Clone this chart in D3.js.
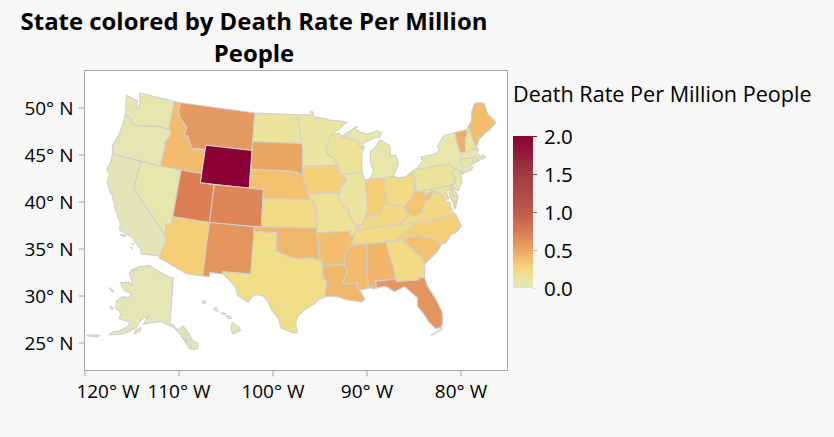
<!DOCTYPE html>
<html>
<head>
<meta charset="utf-8">
<script src="https://cdn.jsdelivr.net/npm/d3@7"></script>
<style>
  html, body { margin: 0; padding: 0; background: #f7f7f7; overflow: hidden; }
  text { font-family: "Open Sans", "Noto Sans", sans-serif; fill: #000; }
</style>
</head>
<body>
<svg id="chart" width="834" height="437"></svg>
<script>
// state names and rates
const stateNames = ["WA","OR","CA","NV","ID","MT","WY","UT","CO","AZ","NM","ND","SD","NE","KS","OK","TX","MN","IA","MO","AR","LA","WI","IL","MI","IN","OH","KY","TN","MS","AL","GA","FL","SC","NC","VA","WV","PA","NY","VT","NH","ME","MA","RI","CT","NJ","DE","MD","AK","HI"];
const deathRates = [0.07,0.05,0.02,0.09,0.40,0.58,2.0,0.70,0.67,0.30,0.60,0.15,0.50,0.37,0.22,0.42,0.21,0.12,0.28,0.17,0.38,0.42,0.16,0.13,0.10,0.31,0.23,0.24,0.22,0.40,0.43,0.23,0.60,0.37,0.30,0.24,0.36,0.15,0.10,0.45,0.13,0.38,0.10,0.10,0.10,0.11,0.15,0.16,0.03,0.03];

// outlines in lon/lat, one list of rings per state
const stateOutlines = {
  WA: [[[-124.7,48.4],[-123.2,48.15],[-122.75,48.15],[-122.6,47.3],[-122.35,47.4],[-122.3,47.9],[-122.5,48.4],[-122.75,49],[-117.03,49],[-117.04,46.42],[-116.92,45.99],[-118.98,46],[-119.3,45.93],[-121.2,45.65],[-122.3,45.55],[-122.75,45.65],[-122.95,46.1],[-123.4,46.2],[-124,46.25],[-124.1,46.9],[-124.4,47.5]]],
  OR: [[[-124,46.25],[-123.4,46.2],[-122.95,46.1],[-122.75,45.65],[-122.3,45.55],[-121.2,45.65],[-119.3,45.93],[-118.98,46],[-116.92,45.99],[-116.46,45.6],[-116.85,44.95],[-117.2,44.4],[-117.03,44.2],[-117.03,42],[-124.2,42],[-124.55,42.85],[-124.1,44],[-123.95,45.5]]],
  CA: [[[-124.2,42],[-120,42],[-120,39],[-114.63,35],[-114.14,34.3],[-114.5,33.9],[-114.72,32.72],[-117.12,32.53],[-117.3,33],[-118.4,33.75],[-118.5,34.03],[-119.2,34.15],[-120.5,34.45],[-120.65,35.15],[-121.9,36.6],[-122,36.95],[-122.5,37.5],[-122.5,37.8],[-123,38],[-123.75,38.95],[-123.8,39.8],[-124.35,40.3],[-124.1,41]],
      [[-120.2,34.05],[-119.55,34.05],[-119.55,33.93],[-120.2,33.93]],[[-118.6,33.45],[-118.3,33.35],[-118.45,33.3]],[[-118.6,33.05],[-118.35,32.8],[-118.5,32.85]]],
  NV: [[[-120,42],[-117.03,42],[-114.04,42],[-114.04,36.2],[-114.75,36.1],[-114.63,35],[-120,39]]],
  ID: [[[-117.03,49],[-116.05,49],[-116.05,48],[-115.7,47.45],[-114.7,46.75],[-114.35,46.65],[-114.5,45.6],[-113.95,45.7],[-113.45,44.95],[-113,44.45],[-111.5,44.55],[-111.05,44.48],[-111.05,42],[-114.04,42],[-117.03,42],[-117.03,44.2],[-117.2,44.4],[-116.85,44.95],[-116.46,45.6],[-116.92,45.99],[-117.04,46.42]]],
  MT: [[[-116.05,49],[-104.05,49],[-104.05,45],[-111.05,45],[-111.05,44.48],[-111.5,44.55],[-113,44.45],[-113.45,44.95],[-113.95,45.7],[-114.5,45.6],[-114.35,46.65],[-114.7,46.75],[-115.7,47.45],[-116.05,48]]],
  WY: [[[-111.05,45],[-104.05,45],[-104.05,41],[-111.05,41]]],
  UT: [[[-114.04,42],[-111.05,42],[-111.05,41],[-109.05,41],[-109.05,37],[-114.04,37]]],
  CO: [[[-109.05,41],[-102.05,41],[-102.05,37],[-109.05,37]]],
  AZ: [[[-114.04,37],[-109.05,37],[-109.05,31.33],[-111.07,31.33],[-114.8,32.5],[-114.72,32.72],[-114.5,33.9],[-114.14,34.3],[-114.63,35],[-114.75,36.1],[-114.04,36.2]]],
  NM: [[[-109.05,37],[-103,37],[-103.05,32],[-106.62,32],[-106.53,31.78],[-108.2,31.78],[-108.2,31.33],[-109.05,31.33]]],
  ND: [[[-104.05,49],[-97.23,49],[-96.85,47.5],[-96.56,45.94],[-104.05,45.94]]],
  SD: [[[-104.05,45.94],[-96.56,45.94],[-96.45,45.3],[-96.45,43.5],[-96.45,42.5],[-97.2,42.85],[-98.5,43],[-104.05,43]]],
  NE: [[[-104.05,43],[-98.5,43],[-97.2,42.85],[-96.45,42.5],[-96.1,41.7],[-95.9,41.2],[-95.77,40.58],[-95.31,40],[-102.05,40],[-102.05,41],[-104.05,41]]],
  KS: [[[-102.05,40],[-95.31,40],[-94.9,39.8],[-94.6,39.1],[-94.62,37],[-102.05,37]]],
  OK: [[[-103,37],[-94.62,37],[-94.62,36.5],[-94.43,35.4],[-94.48,33.64],[-95.5,33.9],[-97.1,33.75],[-97.9,33.9],[-99.2,34.3],[-100,34.56],[-100,36.5],[-103,36.5]]],
  TX: [[[-106.62,32],[-103.05,32],[-103,36.5],[-100,36.5],[-100,34.56],[-99.2,34.3],[-97.9,33.9],[-97.1,33.75],[-95.5,33.9],[-94.48,33.64],[-94.04,33.55],[-94.04,33],[-94.04,32],[-93.55,31.2],[-93.85,29.7],[-94.75,29.35],[-95.3,28.9],[-96.4,28.35],[-97.2,27.6],[-97.4,26.8],[-97.15,25.96],[-97.6,25.9],[-99.1,26.4],[-99.5,27.5],[-100.3,28.3],[-100.7,29.1],[-101.4,29.77],[-102.3,29.88],[-102.7,29.7],[-103.15,28.98],[-104.5,29.65],[-104.9,30.6],[-106,31.4],[-106.53,31.78]]],
  MN: [[[-97.23,49],[-95.15,49],[-95.15,49.38],[-94.8,49.3],[-94.6,48.72],[-93,48.55],[-92,48.3],[-90.8,48.2],[-89.5,48],[-90.8,47.3],[-92.05,46.7],[-92.3,46.65],[-92.3,46.1],[-92.85,45.6],[-92.75,44.75],[-91.95,44.35],[-91.2,43.5],[-96.45,43.5],[-96.45,45.3],[-96.56,45.94],[-96.85,47.5]]],
  IA: [[[-96.45,43.5],[-91.2,43.5],[-91.1,42.7],[-90.65,42.5],[-90.15,41.8],[-91.05,41.2],[-91.1,40.7],[-91.42,40.38],[-91.7,40.6],[-95.77,40.58],[-95.9,41.2],[-96.1,41.7],[-96.45,42.5]]],
  MO: [[[-95.77,40.58],[-91.7,40.6],[-91.42,40.38],[-91.5,40],[-90.7,39],[-90.15,38.8],[-90.2,38.4],[-89.5,37.3],[-89.15,37],[-89.5,36.5],[-89.7,36],[-90.37,36],[-90.15,36.5],[-94.62,36.5],[-94.62,37],[-94.6,39.1],[-94.9,39.8],[-95.31,40]]],
  AR: [[[-94.62,36.5],[-90.15,36.5],[-90.37,36],[-89.7,36],[-90.1,35],[-90.6,34.7],[-91.15,33.95],[-91.17,33],[-94.04,33],[-94.04,33.55],[-94.48,33.64],[-94.43,35.4]]],
  LA: [[[-94.04,33],[-91.17,33],[-90.9,32.3],[-91.6,31],[-89.73,31],[-89.85,30.65],[-89.55,30.2],[-89.4,30.05],[-89,29.2],[-89.4,28.95],[-90.2,29.1],[-91.3,29.3],[-92,29.6],[-93.2,29.78],[-93.85,29.7],[-93.55,31.2],[-94.04,32]]],
  WI: [[[-92.3,46.65],[-92.05,46.7],[-90.8,46.9],[-90.4,46.55],[-88.1,45.9],[-87.6,45.1],[-87.05,45.25],[-87.6,44.5],[-87.8,43],[-87.8,42.5],[-90.65,42.5],[-91.1,42.7],[-91.2,43.5],[-91.95,44.35],[-92.75,44.75],[-92.85,45.6],[-92.3,46.1]]],
  IL: [[[-90.65,42.5],[-87.8,42.5],[-87.52,41.72],[-87.53,39.35],[-87.53,38.7],[-88.05,37.8],[-88.45,37.1],[-89.15,37],[-89.5,37.3],[-90.2,38.4],[-90.15,38.8],[-90.7,39],[-91.5,40],[-91.42,40.38],[-91.1,40.7],[-91.05,41.2],[-90.15,41.8]]],
  MI: [[[-86.8,41.76],[-84.8,41.7],[-83.45,41.73],[-83.15,42.05],[-82.45,43],[-82.6,43.9],[-83.4,43.95],[-83.3,45],[-84.7,45.78],[-85.5,45],[-86.25,44.7],[-86.5,43.7],[-86.2,42.6]],
      [[-90.4,46.55],[-88.1,45.9],[-87.6,45.1],[-87,45.7],[-85.5,46.05],[-84.7,46],[-84.3,46.5],[-85,46.75],[-86.5,46.5],[-87.6,46.85],[-88.3,47.2],[-87.9,47.47],[-88.6,47.25],[-89.6,46.85]]],
  IN: [[[-87.52,41.72],[-86.8,41.76],[-84.8,41.7],[-84.8,39.1],[-85.4,38.73],[-85.9,38],[-86.8,37.95],[-88.05,37.8],[-87.53,38.7],[-87.53,39.35]]],
  OH: [[[-84.8,41.7],[-83.45,41.73],[-82.7,41.5],[-81.7,41.5],[-80.52,42],[-80.52,40.64],[-80.85,39.7],[-81.7,39],[-82.2,38.6],[-82.6,38.4],[-83,38.73],[-83.7,38.65],[-84.8,39.1]]],
  KY: [[[-89.5,36.5],[-88.07,36.5],[-88.07,36.68],[-86.5,36.65],[-83.68,36.6],[-81.97,37.54],[-82.6,38.17],[-82.6,38.4],[-83,38.73],[-83.7,38.65],[-84.8,39.1],[-85.4,38.73],[-85.9,38],[-86.8,37.95],[-88.05,37.8],[-88.45,37.1],[-89.15,37]]],
  TN: [[[-90.1,35],[-88.2,35],[-85.6,35],[-84.32,35],[-83.2,35.7],[-82,36.1],[-81.68,36.59],[-83.68,36.6],[-86.5,36.65],[-88.07,36.68],[-88.07,36.5],[-89.5,36.5],[-89.7,36]]],
  MS: [[[-90.1,35],[-88.2,35],[-88.1,34.9],[-88.47,31.9],[-88.4,30.35],[-89.55,30.2],[-89.85,30.65],[-89.73,31],[-91.6,31],[-90.9,32.3],[-91.17,33],[-91.15,33.95],[-90.6,34.7]]],
  AL: [[[-88.2,35],[-85.6,35],[-85.18,32.87],[-85,32.3],[-85,31],[-87.6,31],[-87.4,30.67],[-87.52,30.28],[-88,30.22],[-88,30.65],[-88.1,30.4],[-88.4,30.35],[-88.47,31.9],[-88.1,34.9]]],
  GA: [[[-85.6,35],[-83.1,35],[-83.35,34.7],[-82.75,34.3],[-81.9,33.4],[-81.45,33],[-81.1,32.1],[-81.4,30.7],[-82.05,30.75],[-82.2,30.55],[-84.87,30.7],[-85,31],[-85,32.3],[-85.18,32.87]]],
  FL: [[[-87.6,31],[-85,31],[-84.87,30.7],[-82.2,30.55],[-82.05,30.75],[-81.4,30.7],[-81.25,29.8],[-80.55,28.4],[-80.03,26.8],[-80.15,25.75],[-80.4,25.2],[-81.1,25.13],[-81.75,26],[-82.2,26.9],[-82.8,27.85],[-82.65,28.7],[-83.4,29.5],[-84,30.1],[-85.3,29.7],[-86.3,30.4],[-87.52,30.28],[-87.4,30.67]],
      [[-80.3,25.1],[-81.7,24.55],[-81.7,24.5],[-80.35,25]]],
  SC: [[[-83.35,34.7],[-83.1,35],[-82.3,35.2],[-81.05,35.15],[-80.8,34.82],[-79.67,34.8],[-78.55,33.86],[-79.2,33.2],[-80.4,32.5],[-81.1,32.1],[-81.45,33],[-81.9,33.4],[-82.75,34.3]]],
  NC: [[[-84.32,35],[-83.1,35],[-82.3,35.2],[-81.05,35.15],[-80.8,34.82],[-79.67,34.8],[-78.55,33.86],[-77.95,33.9],[-77.1,34.65],[-76.5,34.7],[-75.55,35.25],[-75.87,36.55],[-81.68,36.59],[-82,36.1],[-83.2,35.7]]],
  VA: [[[-83.68,36.6],[-81.68,36.59],[-75.87,36.55],[-76.3,37],[-76.3,37.9],[-76.95,38.3],[-77.05,38.8],[-77.5,39.1],[-77.72,39.32],[-77.83,39.13],[-78.35,39.4],[-78.87,38.77],[-79.65,38.58],[-80.3,37.5],[-81.3,37.3],[-81.97,37.54]],
      [[-75.25,38.03],[-75.9,37.95],[-75.95,37.15],[-75.6,37.5]]],
  WV: [[[-81.97,37.54],[-81.3,37.3],[-80.3,37.5],[-79.65,38.58],[-78.87,38.77],[-78.35,39.4],[-77.83,39.13],[-77.72,39.32],[-78.4,39.62],[-79.48,39.2],[-79.48,39.72],[-80.52,39.72],[-80.52,40.64],[-80.85,39.7],[-81.7,39],[-82.2,38.6],[-82.6,38.4],[-82.6,38.17]]],
  PA: [[[-80.52,42],[-79.76,42.27],[-79.76,42],[-75.35,42],[-74.7,41.36],[-75.1,40.95],[-74.75,40.2],[-75.4,39.8],[-75.78,39.72],[-80.52,39.72]]],
  NY: [[[-79.76,42.27],[-78.9,42.85],[-79.05,43.27],[-76.8,43.3],[-76.2,43.55],[-76.3,44.1],[-75,44.98],[-73.35,45],[-73.4,44],[-73.25,42.75],[-73.5,42.05],[-73.5,41.3],[-73.65,41],[-73.8,40.8],[-72,41.05],[-72.4,40.75],[-74,40.58],[-74,41],[-74.7,41.36],[-75.35,42],[-79.76,42]]],
  VT: [[[-73.35,45],[-71.5,45],[-71.6,44.5],[-72.05,44.1],[-72.45,43],[-72.46,42.73],[-73.25,42.75],[-73.4,44]]],
  NH: [[[-71.5,45],[-71.08,45.3],[-70.98,43.4],[-70.7,43.07],[-70.82,42.87],[-72.46,42.73],[-72.45,43],[-72.05,44.1],[-71.6,44.5]]],
  ME: [[[-71.08,45.3],[-70.4,45.8],[-70,46.7],[-69.23,47.45],[-68.3,47.35],[-67.8,47.07],[-67.78,45.9],[-67.45,45.6],[-67,44.85],[-68.2,44.3],[-69,44.1],[-70.2,43.6],[-70.7,43.07],[-70.98,43.4]]],
  MA: [[[-73.5,42.05],[-73.25,42.75],[-72.46,42.73],[-70.82,42.87],[-70.6,42.65],[-71.05,42.3],[-70.6,41.95],[-70.05,41.8],[-70.2,42.07],[-69.97,41.65],[-70.65,41.55],[-71.12,41.5],[-71.38,42.02],[-71.8,42.02]]],
  RI: [[[-71.8,42.02],[-71.38,42.02],[-71.12,41.5],[-71.85,41.32]]],
  CT: [[[-73.5,42.05],[-71.8,42.02],[-71.85,41.32],[-73.65,41],[-73.5,41.3]]],
  NJ: [[[-74.7,41.36],[-74,41],[-74,40.58],[-74.1,39.75],[-74.9,38.95],[-75.55,39.5],[-74.75,40.2],[-75.1,40.95]]],
  DE: [[[-75.78,39.72],[-75.4,39.8],[-75.55,39.5],[-75.05,38.45],[-75.7,38.46]]],
  MD: [[[-79.48,39.72],[-75.78,39.72],[-75.7,38.46],[-75.05,38.45],[-75.25,38.03],[-75.9,37.95],[-76.2,38.6],[-76,39.4],[-76.5,39.2],[-76.4,38.4],[-76.95,38.3],[-77.05,38.8],[-77.5,39.1],[-77.72,39.32],[-78.4,39.62],[-79.48,39.2]]],
  AK: [[[-141,69.65],[-141,60.3],[-139.5,59.9],[-137.5,58.9],[-135.5,59.8],[-133.5,58.4],[-131.8,56.6],[-130,56],[-130.1,55],[-131.5,54.8],[-133.2,55],[-134.5,56.2],[-136,57.8],[-137.5,58.5],[-139.5,59.5],[-142.5,60],[-145,60.4],[-147.5,60],[-148.5,59.9],[-151.8,59.2],[-151,60.8],[-150,61.2],[-152.5,60.5],[-153.8,59.2],[-154.2,58.2],[-156.5,57],[-158.5,56],[-161,55.3],[-163.2,54.8],[-162,55.8],[-160,56.4],[-158,57.6],[-157,58.8],[-158.5,58.8],[-162,58.7],[-162,59.9],[-164.5,60.3],[-166,61.6],[-164.9,62.7],[-164.5,63.1],[-161,63.6],[-161,64.5],[-165,64.5],[-168.1,65.6],[-164.5,66.5],[-162,66.2],[-163.5,67.1],[-166.5,68.35],[-163,69.5],[-166.2,68.9],[-163,70.3],[-156.6,71.35],[-152,70.85],[-145,70]],
      [[-154.5,56.7],[-152.3,57.6],[-152.6,58.4],[-154.2,57.6]],[[-167.5,60.2],[-165.7,60.3],[-166,59.8]],[[-171.7,63.6],[-169.5,63.4],[-168.8,63.2],[-170.5,63.2]],[[-170,52.7],[-168.5,53.3],[-166,53.9],[-166.5,53.4],[-168.5,52.9]],[[-136.5,58],[-134.8,58.3],[-134.3,57],[-135.5,57]],[[-134.5,57],[-133,56.9],[-132.5,55.2],[-133.5,55.2]]],
  HI: [[[-155.9,20.25],[-155.1,19.85],[-154.8,19.5],[-155.65,18.95],[-155.95,19.5]],[[-156.7,20.95],[-156.2,20.95],[-156,20.7],[-156.4,20.6]],[[-158.25,21.55],[-157.95,21.7],[-157.7,21.3],[-158.1,21.3]],[[-159.75,22.1],[-159.35,22.2],[-159.35,21.9],[-159.6,21.9]],[[-157.3,21.2],[-156.75,21.15],[-156.9,21.05],[-157.3,21.1]]]
};

const colorStops = [0, 0.1, 0.2, 0.3, 0.4, 0.5, 0.6, 0.7, 1.0, 1.5, 2.0];
const colorRamp = ["#e2e5bc","#e8e7a9","#f0de8a","#f5ce75","#f2bb6d","#eaa564","#e4955e","#dc8054","#bc5a4a","#a03a42","#8b0035"];

const lonTicks = [-120, -110, -100, -90, -80];
const latTicks = [25, 30, 35, 40, 45, 50];
const legendTicks = [0, 0.5, 1, 1.5, 2];

const titleLines = ["State colored by Death Rate Per Million", "People"];
const legendTitle = "Death Rate Per Million People";

const svg = d3.select("#chart");
const frame = {left: 84.5, top: 70.5, right: 507.5, bottom: 370.5};

svg.append("rect")
  .attr("x", frame.left).attr("y", frame.top)
  .attr("width", frame.right - frame.left).attr("height", frame.bottom - frame.top)
  .attr("fill", "#fff").attr("stroke", "#a6a6a6").attr("stroke-width", 1);

// the lower 48 and the two moved states each get their own conic
const main = d3.geoConicEqualArea().parallels([29.5, 45.5]).rotate([97, 0]).center([0, 38.7]).scale(540).translate([299, 212]);
const alaska = d3.geoConicEqualArea().parallels([55, 65]).rotate([136, 0]).center([-5, 60.3]).scale(275).translate([170, 323]);
const hawaii = d3.geoConicEqualArea().parallels([29.5, 45.5]).rotate([143, 0]).center([-14, 20.5]).scale(515).translate([223, 319]);
const projections = {AK: alaska, HI: hawaii};

const color = d3.scaleLinear().domain(colorStops).range(colorRamp);

function shape(name) {
  let coords = stateOutlines[name].map((ring) => {
    // d3 wants clockwise rings, some of mine are not
    let r = ring.concat([ring[0]]);
    if (d3.geoArea({type: "Polygon", coordinates: [r]}) > 2 * Math.PI) r.reverse();
    return [r];
  });
  return {type: "MultiPolygon", coordinates: coords};
}

svg.append("g").selectAll("path")
  .data(stateNames)
  .join("path")
  .attr("d", (d) => d3.geoPath(projections[d] || main)(shape(d)))
  .attr("fill", (d, i) => color(deathRates[i]))
  .attr("stroke", "#cfcfcf")
  .attr("stroke-width", 1.1)
  .attr("stroke-linejoin", "round");

// axes
const x = d3.scaleLinear().domain([-120, -80]).range([84.5, 460.5]);
const y = d3.scaleLinear().domain([25, 50]).range([342.5, 107.5]);

const xAxis = svg.append("g")
  .attr("transform", `translate(0,${frame.bottom})`)
  .call(d3.axisBottom(x).tickValues(lonTicks).tickSize(6).tickFormat((d) => `${-d}\u00b0 W`));
const yAxis = svg.append("g")
  .attr("transform", `translate(${frame.left},0)`)
  .call(d3.axisLeft(y).tickValues(latTicks).tickSize(6).tickFormat((d) => `${d}\u00b0 N`));

xAxis.select(".domain").remove();
yAxis.select(".domain").remove();
xAxis.selectAll("line").attr("stroke", "#a6a6a6");
yAxis.selectAll("line").attr("stroke", "#a6a6a6");
xAxis.selectAll("text").attr("font-size", 19).attr("y", 14).attr("font-family", null);
yAxis.selectAll("text").attr("font-size", 19).attr("x", -11).attr("dy", "0.36em").attr("font-family", null);
// first label is pushed right so it does not hang off the frame
xAxis.selectAll("text").filter((d) => d === -120).attr("dx", 23);

// title
svg.append("g").selectAll("text")
  .data(titleLines)
  .join("text")
  .attr("x", 254)
  .attr("y", (d, i) => 30 + i * 32)
  .attr("text-anchor", "middle")
  .attr("font-size", 23.9)
  .attr("font-weight", 700)
  .text((d) => d);

// colour legend
svg.append("text").attr("x", 513).attr("y", 102).attr("font-size", 21.6).text(legendTitle);

const legendY = d3.scaleLinear().domain([0, 2]).range([288, 136]);
const defs = svg.append("defs");
const grad = defs.append("linearGradient").attr("id", "ramp").attr("x1", 0).attr("x2", 0).attr("y1", 1).attr("y2", 0);
colorStops.forEach((v, i) => {
  grad.append("stop").attr("offset", v / 2).attr("stop-color", colorRamp[i]);
});
svg.append("rect")
  .attr("x", 513).attr("y", legendY(2))
  .attr("width", 20).attr("height", legendY(0) - legendY(2))
  .attr("fill", "url(#ramp)");

const legendAxis = svg.append("g")
  .attr("transform", "translate(533,0)")
  .call(d3.axisRight(legendY).tickValues(legendTicks).tickSize(4).tickFormat(d3.format(".1f")));
legendAxis.select(".domain").remove();
legendAxis.selectAll("line").attr("stroke", (d) => color(d));
legendAxis.selectAll("text").attr("font-size", 20.5).attr("x", 11).attr("dy", "0.36em").attr("font-family", null);
</script>
</body>
</html>
